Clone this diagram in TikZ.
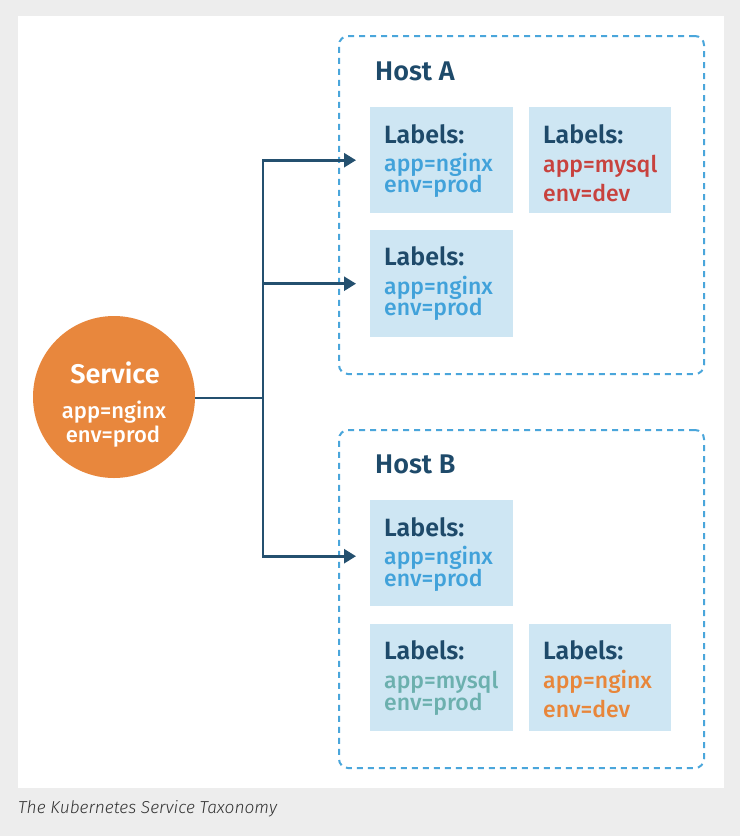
\documentclass[tikz,border=0pt]{standalone}
\usepackage{fontspec}
\usetikzlibrary{arrows.meta}
\setmainfont{Fira Sans}
\IfFontExistsTF{Fira Sans SemiBold}{\newfontfamily\hfont{Fira Sans SemiBold}}{\newfontfamily\hfont{Fira Sans}[UprightFont=*Bold]}
\IfFontExistsTF{Fira Sans Medium}{\newfontfamily\mfont{Fira Sans Medium}}{\newfontfamily\mfont{Fira Sans}}
\IfFontExistsTF{Fira Sans Light Italic}{\newfontfamily\cfont{Fira Sans Light Italic}}{\newfontfamily\cfont{Fira Sans}[UprightFont=*Italic]}
\definecolor{bggrey}{HTML}{EDEDED}
\definecolor{navy}{HTML}{1E4A6A}
\definecolor{conn}{HTML}{24506F}
\definecolor{ltblue}{HTML}{41A2DA}
\definecolor{boxfill}{HTML}{CEE6F3}
\definecolor{dashc}{HTML}{4AA6DB}
\definecolor{redt}{HTML}{C8423E}
\definecolor{tealt}{HTML}{6CB0AE}
\definecolor{oranget}{HTML}{E8863A}
\definecolor{svcor}{HTML}{E8873D}
\definecolor{capc}{HTML}{333333}
\begin{document}
\begin{tikzpicture}[x=1pt,y=-1pt,
  hostbox/.style={draw=dashc, line width=2pt, dash pattern=on 6pt off 5pt, rounded corners=9pt, anchor=north west, minimum width=365pt, minimum height=338pt, inner sep=0pt},
  podbox/.style={fill=boxfill, anchor=north west, minimum width=143pt, minimum height=106pt, inner sep=0pt},
  hosttxt/.style={anchor=base west, inner sep=0pt, text=navy, font=\hfont\fontsize{27}{30}\selectfont},
  lbltxt/.style={anchor=base west, inner sep=0pt, text=navy, font=\hfont\fontsize{25}{28}\selectfont},
  valtxt/.style={anchor=base west, inner sep=0pt, font=\mfont\fontsize{23}{26}\selectfont},
  svctxt/.style={anchor=base, inner sep=0pt, text=white},
  connector/.style={draw=conn, line width=2.6pt},
  arrowc/.style={connector, -{Triangle[length=12pt,width=14pt]}, shorten >=14pt}
]
\useasboundingbox (0,0) rectangle (740,836);
\fill[bggrey] (0,0) rectangle (740,836);
\fill[white] (18,16) rectangle (724,788);

% hosts
\node[hostbox] (hostA) at (338,35) {};
\node[hostbox] (hostB) at (338,429) {};
\node[hosttxt] (hostAt) at (375,80) {Host A};
\node[hosttxt] (hostBt) at (375,473) {Host B};

% pods host A
\node[podbox] (a1) at (370,107) {};
\node[podbox, minimum width=142pt] (a2) at (529,107) {};
\node[podbox, minimum height=107pt] (a3) at (370,230) {};
% pods host B
\node[podbox] (b1) at (370,500) {};
\node[podbox, minimum height=107pt] (b2) at (370,624) {};
\node[podbox, minimum width=142pt, minimum height=107pt] (b3) at (529,624) {};

\node[lbltxt] (a1l) at (384,143) {Labels:};
\node[valtxt, text=ltblue] (a1a) at (384,171) {app=nginx};
\node[valtxt, text=ltblue] (a1e) at (384,192) {env=prod};

\node[lbltxt] (a2l) at (543,143) {Labels:};
\node[valtxt, text=redt] (a2a) at (543,172) {app=mysql};
\node[valtxt, text=redt] (a2e) at (543,201) {env=dev};

\node[lbltxt] (a3l) at (384,265) {Labels:};
\node[valtxt, text=ltblue] (a3a) at (384,294) {app=nginx};
\node[valtxt, text=ltblue] (a3e) at (384,315) {env=prod};

\node[lbltxt] (b1l) at (384,536) {Labels:};
\node[valtxt, text=ltblue] (b1a) at (384,564) {app=nginx};
\node[valtxt, text=ltblue] (b1e) at (384,586) {env=prod};

\node[lbltxt] (b2l) at (384,659) {Labels:};
\node[valtxt, text=tealt] (b2a) at (384,688) {app=mysql};
\node[valtxt, text=tealt] (b2e) at (384,710) {env=prod};

\node[lbltxt] (b3l) at (543,659) {Labels:};
\node[valtxt, text=oranget] (b3a) at (543,688) {app=nginx};
\node[valtxt, text=oranget] (b3e) at (543,717) {env=dev};

% service
\node[circle, fill=svcor, minimum size=162pt, inner sep=0pt] (svc) at (114,397) {};
\node[svctxt, font=\hfont\fontsize{27}{30}\selectfont] (svct) at (115,383) {Service};
\node[svctxt, font=\mfont\fontsize{22}{25}\selectfont] (svca) at (114,418) {app=nginx};
\node[svctxt, font=\mfont\fontsize{22}{25}\selectfont] (svce) at (113,442) {env=prod};

% connectors
\coordinate (j) at (263,398);
\draw[connector] (svc.east |- j) -- (j);
\draw[arrowc] (j) |- (a1.west);
\draw[arrowc] (j) |- (a3.west);
\draw[arrowc] (j) |- ([yshift=-3pt]b1.west);

% caption
\node[anchor=base west, inner sep=0pt, text=capc, font=\cfont\fontsize{17.3}{20}\selectfont] (cap) at (18,813) {The Kubernetes Service Taxonomy};
\end{tikzpicture}
\end{document}
